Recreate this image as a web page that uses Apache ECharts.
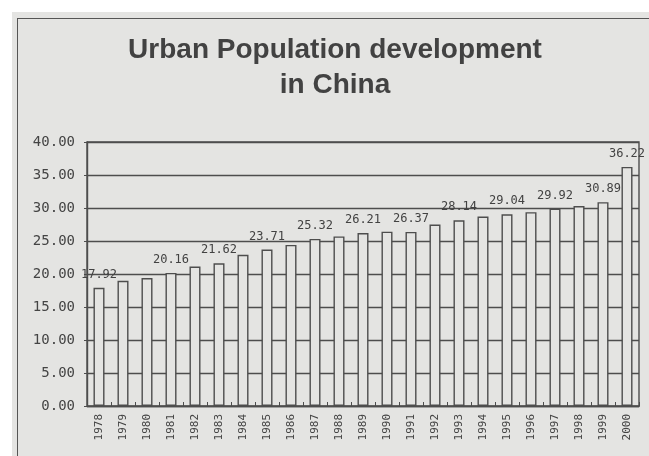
<!DOCTYPE html>
<html>
<head>
<meta charset="utf-8">
<script src="https://cdn.jsdelivr.net/npm/echarts@6/dist/echarts.min.js"></script>
<style>
  html, body { margin: 0; padding: 0; background: #ffffff; }
  #paper { position: absolute; left: 12px; top: 12px; width: 637px; height: 444px; background: #e4e4e2; }
  #frame { position: absolute; left: 17px; top: 18px; width: 660px; height: 460px; border: 1.5px solid #555555; box-sizing: border-box; }
  #chart { position: absolute; left: 0; top: 0; width: 649px; height: 456px; }
</style>
</head>
<body>
<div id="paper"></div>
<div id="frame"></div>
<div id="chart"></div>
<script>
const titleText = 'Urban Population development\nin China';
const years = ['1978','1979','1980','1981','1982','1983','1984','1985','1986','1987','1988','1989',
               '1990','1991','1992','1993','1994','1995','1996','1997','1998','1999','2000'];
const urbanShare = [17.92, 18.96, 19.39, 20.16, 21.13, 21.62, 22.90, 23.71, 24.40, 25.32, 25.70, 26.21,
                    26.41, 26.37, 27.50, 28.14, 28.70, 29.04, 29.37, 29.92, 30.30, 30.89, 36.22];
const labeledYears = ['1978','1981','1983','1985','1987','1989','1991','1993','1995','1997','1999','2000'];
const yTicks = [0, 5, 10, 15, 20, 25, 30, 35, 40];

const ink = '#4d4d4d';
const paper = '#e4e4e2';
const mono = '"DejaVu Sans Mono", "Liberation Mono", monospace';

const chart = echarts.init(document.getElementById('chart'), null, { renderer: 'canvas' });
chart.setOption({
  backgroundColor: 'transparent',
  animation: false,
  title: {
    text: titleText,
    left: 335,
    top: 33,
    padding: 0,
    textAlign: 'center',
    textStyle: {
      fontFamily: '"Liberation Sans", Arial, sans-serif',
      fontWeight: 'bold',
      fontSize: 28,
      lineHeight: 35,
      color: '#424242'
    }
  },
  grid: {
    left: 87, right: 10, top: 142, bottom: 50,
    show: true, borderColor: ink, borderWidth: 1.4, backgroundColor: 'transparent'
  },
  xAxis: {
    type: 'category',
    data: years,
    axisLine: { lineStyle: { color: ink, width: 1.4 } },
    axisTick: { show: true, inside: true, length: 4, lineStyle: { color: ink } },
    axisLabel: {
      rotate: 90, margin: 8, interval: 0,
      fontFamily: mono, fontSize: 11, color: '#444444'
    }
  },
  yAxis: {
    type: 'value',
    min: yTicks[0], max: yTicks[yTicks.length - 1], interval: 5,
    axisLine: { show: true, lineStyle: { color: ink, width: 1.4 } },
    axisTick: { show: true, length: 3, lineStyle: { color: ink } },
    splitLine: { lineStyle: { color: ink, width: 1.4 } },
    axisLabel: {
      margin: 12, fontFamily: mono, fontSize: 14, color: '#444444',
      formatter: v => v.toFixed(2)
    }
  },
  series: [{
    type: 'bar',
    barWidth: 11,
    data: urbanShare.map((v, i) => ({
      value: v,
      label: { show: labeledYears.includes(years[i]) }
    })),
    itemStyle: { color: paper, borderColor: ink, borderWidth: 1.4 },
    label: {
      position: 'top', distance: 7,
      fontFamily: mono, fontSize: 12, color: '#424242',
      formatter: p => p.value.toFixed(2)
    }
  }]
});
</script>
</body>
</html>
